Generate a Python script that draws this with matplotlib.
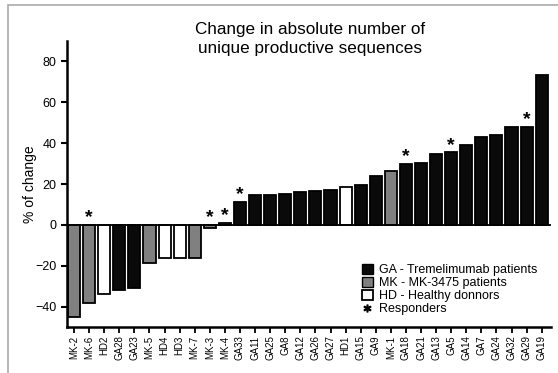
import matplotlib.pyplot as plt
from matplotlib.patches import Patch, Rectangle
from matplotlib.lines import Line2D

plt.rcParams["font.family"] = ["Liberation Sans", "DejaVu Sans"]

samples = [
    "MK-2", "MK-6", "HD2", "GA28", "GA23", "MK-5", "HD4", "HD3", "MK-7", "MK-3",
    "MK-4", "GA33", "GA11", "GA25", "GA8", "GA12", "GA26", "GA27", "HD1", "GA15",
    "GA9", "MK-1", "GA18", "GA21", "GA13", "GA5", "GA14", "GA7", "GA24", "GA32",
    "GA29", "GA19",
]
pct_change = [
    -45.0, -38.2, -33.7, -31.7, -30.9, -18.7, -16.3, -16.3, -16.0, -1.6,
    1.1, 11.4, 14.6, 14.6, 15.1, 16.1, 16.6, 16.9, 18.7, 19.7,
    23.9, 26.3, 29.9, 30.4, 34.6, 35.6, 38.9, 42.9, 44.2, 47.8,
    48.1, 73.2,
]
responders = ["MK-6", "MK-3", "MK-4", "GA33", "GA18", "GA5", "GA29"]

group_colors = {"GA": "#0a0a0a", "MK": "#808080", "HD": "white"}

fig = plt.figure(figsize=(5.58, 3.73), dpi=100)
ax = fig.add_axes([0.12, 0.123, 0.867, 0.767])

colors = [group_colors[s[:2]] for s in samples]
x = list(range(len(samples)))
ax.bar(x, pct_change, width=0.8, color=colors, edgecolor="black", linewidth=1.3)

# asterisks for responders
for i, (name, val) in enumerate(zip(samples, pct_change)):
    if name in responders:
        ax.annotate("*", (i, max(val, 0)), xytext=(0, -1), textcoords="offset points",
                    ha="center", va="bottom", fontsize=14, fontweight="bold")

ax.axhline(0, color="black", linewidth=1.3)
ax.set_xlim(-0.47, len(samples) - 0.4)
ax.set_ylim(-50, 90)
ax.set_yticks([-40, -20, 0, 20, 40, 60, 80])
ax.set_xticks(x)
ax.set_xticklabels(samples, rotation=90, fontsize=7)
ax.tick_params(axis="y", labelsize=9, width=1.5, length=4)
ax.tick_params(axis="x", width=1.3, length=4, pad=2)
for side in ["top", "right"]:
    ax.spines[side].set_visible(False)
for side in ["left", "bottom"]:
    ax.spines[side].set_linewidth(1.8)
ax.set_ylabel("% of change", fontsize=10, labelpad=-1)

fig.text(0.556, 0.895, "Change in absolute number of\nunique productive sequences",
         ha="center", va="center", fontsize=12.3, linespacing=1.3)

handles = [
    Patch(facecolor=group_colors["GA"], edgecolor="black", label="GA - Tremelimumab patients"),
    Patch(facecolor=group_colors["MK"], edgecolor="black", label="MK - MK-3475 patients"),
    Patch(facecolor=group_colors["HD"], edgecolor="black", linewidth=1.3, label="HD - Healthy donnors"),
    Line2D([], [], marker="$*$", color="black", linestyle="None", markersize=5, label="Responders"),
]
fig.legend(handles=handles, loc="upper left", bbox_to_anchor=(0.637, 0.31),
           frameon=False, fontsize=9, handlelength=0.9, handleheight=0.9,
           handletextpad=0.5, labelspacing=0.05, borderpad=0)

# light frame around the picture
fig.patches.append(Rectangle((0.014, -0.1), 1.2, 1.087, transform=fig.transFigure,
                             fill=False, edgecolor="#aaaaaa", linewidth=1.2))

fig.savefig("out.png", dpi=100)
